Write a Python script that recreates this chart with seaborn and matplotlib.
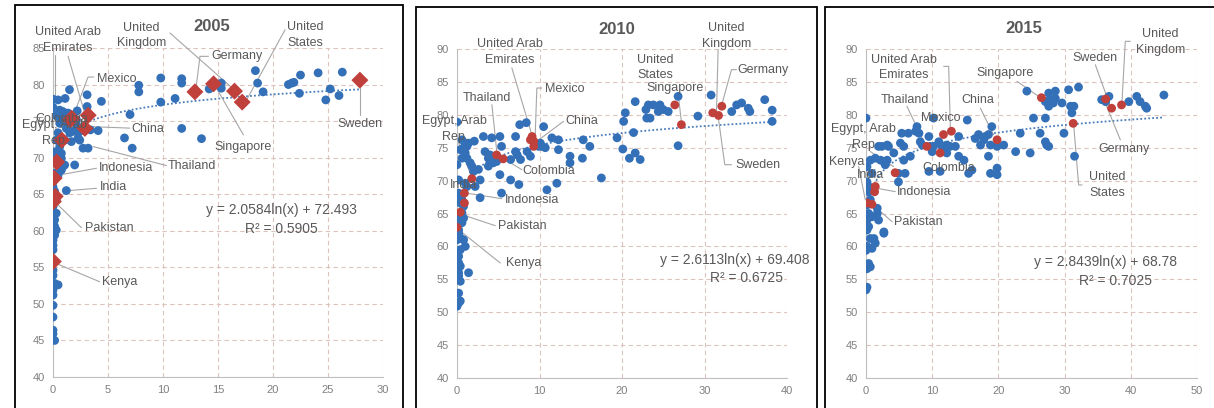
import numpy as np
import pandas as pd
import matplotlib
matplotlib.use('Agg')
import matplotlib.pyplot as plt
from matplotlib.patches import Rectangle
import seaborn as sns

sns.set_style('white')
plt.rcParams['font.family'] = ['Liberation Sans', 'DejaVu Sans']

# ---- data ----
blue_2005 = [(0.0,78.0),(0.0,76.9),(0.0,75.9),(1.1,78.1),(1.5,79.3),(3.1,78.6),(3.1,77.0),(4.4,77.7),
             (2.2,76.4),(4.1,73.7),(3.4,73.8),(7.0,75.9),(6.5,72.7),(7.2,71.3),(7.8,79.9),(7.8,79.0),
             (9.8,80.9),(9.8,77.6),(11.1,78.1),(11.7,80.8),(11.7,80.2),(11.7,74.0),(13.5,72.6),(14.2,79.4),
             (15.3,80.2),(15.3,79.5),(18.4,81.9),(18.6,80.2),(19.1,79.0),(21.4,80.0),(21.7,80.2),(21.9,80.3),
             (22.5,81.3),(22.4,78.8),(24.1,81.6),(24.8,77.9),(25.2,79.4),(26.3,81.7),(26.0,78.5),
             (0.61,76.5),(0.61,74.7),(0.91,75.2),(1.21,74.0),(1.52,73.4),(1.82,73.6),(1.67,72.2),(2.28,72.7),
             (2.43,72.4),(2.73,71.3),(3.19,71.3),(1.97,69.0),(1.06,69.0),(0.76,69.9),(0.91,68.8),(0.76,68.3),
             (1.21,65.5),(0.46,73.4),(0.3,72.4),(1.06,72.4),(1.37,74.5),(2.13,74.5),(0.46,75.6),(0.91,76.3),
             (0.46,77.9),(1.37,76.1),(2.13,75.2),(2.43,73.6),(0.61,71.5),(0.76,70.6),(0.46,67.6),
             (0.15,70.8),(0.0,69.7),(0.15,67.9),(0.0,66.7),(0.0,66.0),(0.15,65.4),(0.0,64.2),(0.0,63.3),
             (0.0,61.9),(0.15,61.5),(0.0,61.0),(0.15,60.6),(0.0,59.9),(0.15,59.4),(0.0,58.7),(0.0,58.0),
             (0.0,57.4),(0.0,56.0),(0.0,54.6),(0.0,53.9),(0.15,52.8),(0.46,52.6),(0.0,51.9),(0.0,51.2),
             (0.0,49.8),(0.0,48.2),(0.0,46.4),(0.0,45.9),(0.15,45.0),(0.3,64.2),(0.3,62.4),(0.3,60.1)]
red_2005 = [(0.8,72.4),(1.7,75.4),(1.6,75.2),(3.2,75.8),(2.9,74.0),(0.33,69.4),(0.1,67.2),(0.2,64.7),
            (0.03,64.0),(0.03,55.8),(12.9,79.0),(14.6,80.1),(16.5,79.1),(17.2,77.6),(27.9,80.6)]

blue_2010 = [(0,78.9),(0,72.4),(2.1,76.0),(3.2,76.7),(4.2,76.5),(5.2,76.7),(5.4,75.2),(7.1,76.7),(7.6,78.5),
             (8.4,78.8),(10.5,78.2),(11.5,76.5),(12.3,76.2),(12.3,74.7),(13.7,73.7),(13.7,72.7),(15.3,76.2),
             (15.2,73.4),(16.1,75.2),(17.5,70.4),(19.4,76.5),(20.2,79.0),(20.4,80.3),(20.1,74.8),(20.9,73.4),
             (21.6,82.0),(21.4,77.3),(21.6,74.2),(22.2,73.2),(22.9,80.8),(23.2,81.5),(23.4,79.5),(23.0,79.5),
             (23.8,81.5),(24.6,81.5),(24.4,80.5),(25.0,80.8),(25.6,80.5),(26.8,82.8),(26.8,75.3),(29.2,79.8),
             (30.8,83.0),(33.3,80.5),(33.9,81.5),(34.5,81.8),(35.3,81.0),(35.5,80.5),(37.3,82.3),(38.2,80.7),
             (38.2,79.0),
             (0.4,74.7),(0.8,75.0),(1.2,75.2),(1.4,75.7),(1.0,74.2),(1.2,73.4),(1.6,72.7),(1.8,72.2),(2.0,71.4),
             (2.6,71.7),(2.8,70.1),(2.8,67.4),(2.2,69.1),(1.2,69.1),(1.0,69.6),(3.4,74.4),(3.8,73.4),(4.0,73.9),
             (3.8,72.2),(4.4,72.7),(4.8,72.9),(5.2,70.9),(6.5,70.1),(7.5,69.4),(5.4,68.1),(6.5,73.2),(7.1,74.4),
             (7.3,73.9),(7.7,73.2),(8.5,74.4),(8.9,73.7),(10.1,75.7),(10.3,75.2),(10.9,68.6),(12.1,69.6),
             (10.7,75.0),(9.9,75.2),(0.6,76.2),(0.6,73.4),
             (0.2,70.1),(0.2,68.1),(0.4,66.6),(0.6,67.1),(0.8,66.1),(0.6,65.1),(0.2,64.6),(0.4,64.1),(0.8,64.3),
             (0.6,63.6),(0.2,62.5),(0.2,62.0),(0.4,61.3),(0.8,61.0),(1.0,60.0),(0.4,59.5),(0.2,58.5),(0.2,57.5),
             (0.4,57.0),(0.2,56.0),(0.2,55.5),(0.4,54.7),(0.2,52.9),(0.2,51.4),(0,50.9),(0.4,51.7),(1.4,56.0),
             (0,67.1),(0,61.0),(0,59.0)]
red_2010 = [(9.1,76.7),(9.3,76.0),(8.9,76.2),(9.3,75.2),(4.8,73.9),(5.6,73.3),(1.8,70.3),(0.9,68.1),
            (0.9,66.6),(0.4,65.2),(0.0,62.9),(26.4,81.5),(27.2,78.5),(31.0,80.3),(31.7,79.9),(32.1,81.3)]

blue_2015 = [(1.9,75.2),(2.4,75.2),(3.2,75.4),(3.4,75.2),(1.4,73.4),(2.2,73.1),(2.7,72.9),(2.9,72.4),(3.2,73.1),
             (4.2,74.2),(5.2,75.7),(5.4,77.2),(5.7,75.2),(5.7,73.1),(4.9,71.1),(4.9,69.8),(5.9,71.1),(6.4,77.2),
             (6.7,73.7),(7.7,78.2),(7.5,77.5),(8.0,77.2),(8.2,75.9),(8.5,75.4),(9.5,76.7),(10.2,79.5),(9.7,75.2),
             (10.0,74.4),(9.5,71.4),(10.2,75.2),(11.0,75.9),(11.5,75.2),(11.2,71.4),(12.2,75.4),(12.2,74.2),
             (12.7,75.2),(13.5,75.2),(14.0,76.7),(14.0,73.7),(14.8,73.1),(15.3,79.2),(15.5,71.1),(16.0,71.6),
             (16.5,76.4),(17.0,77.0),(17.3,75.4),(17.8,76.2),(18.0,76.7),(18.5,77.0),(18.8,75.4),(19.0,78.2),
             (18.5,73.7),(18.8,71.1),(19.8,71.9),(19.8,70.9),(19.8,75.2),(20.8,75.4),(22.6,74.4),(23.3,77.2),
             (24.8,74.2),(24.3,83.6),(25.3,79.5),(26.3,77.2),(27.1,79.5),(27.1,75.9),(27.3,75.4),(27.6,75.2),
             (27.1,82.0),(27.6,81.3),(27.8,82.3),(27.6,83.3),(28.6,83.6),(28.6,82.5),(28.3,81.8),(29.6,81.8),
             (29.9,77.2),(30.6,83.8),(30.9,81.3),(31.1,80.3),(31.4,81.3),(31.5,73.7),(32.1,84.2),(35.6,82.3),
             (36.7,82.8),(36.2,82.0),(39.7,82.0),(40.9,82.8),(41.4,82.0),(42.2,81.3),(42.4,81.0),(45.0,83.0),
             (0,79.5),(0.15,69.8),(0.4,68.3),(0.65,67.1),(0.15,66.3),(0.4,65.0),(0.9,64.5),(0.15,64.0),(0.4,63.0),
             (0.15,62.5),(0.65,61.2),(1.2,61.2),(0.15,60.0),(0.9,59.7),(0,59.4),(1.4,60.5),(0.4,57.4),(0.65,56.9),
             (0.15,56.6),(0,53.4),(0.15,53.8),(1.7,65.8),(1.7,65.0),(1.9,64.0),(2.7,62.2),(2.7,62.0),(0.4,69.1),
             (0.9,71.1),(0.65,73.1),(0.15,72.1)]
red_2015 = [(26.5,82.6),(31.3,78.7),(36.2,82.4),(37.1,81.0),(38.6,81.5),(11.7,77.0),(12.9,77.5),(9.2,75.2),
            (11.2,74.2),(19.8,76.2),(4.4,71.2),(1.4,69.1),(1.3,68.3),(0.15,66.6),(0.9,66.4)]

years = ['2005', '2010', '2015']
trend_coef = {'2005': (2.0584, 72.493), '2010': (2.6113, 69.408), '2015': (2.8439, 68.78)}
trend_text = {'2005': ('y = 2.0584ln(x) + 72.493', 'R² = 0.5905'),
              '2010': ('y = 2.6113ln(x) + 69.408', 'R² = 0.6725'),
              '2015': ('y = 2.8439ln(x) + 68.78', 'R² = 0.7025')}

# label text, label centre, leader line
labels_2005 = [('United Arab\nEmirates', (1.37, 86.1), [(0.15, 84.1), (0.15, 77.9)]),
               ('', (0, 0), [(1.37, 83.86), (2.88, 76.09)]),
               ('United\nKingdom', (8.05, 86.7), [(10.63, 87.06), (16.4, 79.38)]),
               ('Germany', (16.76, 83.86), [(14.12, 83.86), (13.36, 83.86), (13.0, 79.52)]),
               ('United\nStates', (22.93, 86.8), [(21.1, 87.5), (17.6, 77.9)]),
               ('Mexico', (5.77, 80.8), [(3.7, 81.03), (3.19, 81.03), (1.88, 75.86)]),
               ('Colombia', (0.76, 75.27), None),
               ('Egypt, Arab\nRep.', (0.15, 73.35), None),
               ('China', (8.6, 73.9), [(6.98, 74.04), (3.19, 74.26)]),
               ('Singapore', (17.3, 71.5), [(17.31, 73.12), (14.73, 79.84)]),
               ('Sweden', (27.94, 74.6), [(27.94, 75.86), (27.94, 79.66)]),
               ('Thailand', (12.66, 68.8), [(10.32, 68.92), (3.64, 71.52)]),
               ('Indonesia', (6.62, 68.55), [(3.95, 68.55), (0.61, 67.64)]),
               ('India', (5.47, 65.95), [(3.95, 65.81), (1.37, 65.49)]),
               ('Pakistan', (5.1, 60.4), [(2.58, 60.42), (0.46, 63.53)]),
               ('Kenya', (6.07, 53.0), [(4.25, 53.02), (0.3, 55.53)])]
labels_2010 = [('United Arab\nEmirates', (6.45, 89.5), [(6.65, 87.11), (9.07, 76.98)]),
               ('Mexico', (13.1, 83.9), [(10.28, 84.07), (9.68, 84.07), (9.48, 76.98)]),
               ('Thailand', (3.63, 82.55), [(4.23, 81.54), (4.84, 74.19)]),
               ('China', (15.1, 79.0), [(12.9, 79.0), (9.68, 75.97)]),
               ('Egypt, Arab\nRep.', (-0.28, 77.84), [(0.2, 75.71), (1.81, 70.39)]),
               ('Colombia', (11.1, 71.4), [(7.86, 71.66), (5.73, 73.28)]),
               ('India', (0.8, 69.4), None),
               ('Indonesia', (9.07, 67.1), [(5.44, 67.25), (1.01, 68.12)]),
               ('Pakistan', (7.86, 63.15), [(4.64, 63.15), (0.6, 64.82)]),
               ('Kenya', (8.06, 57.5), [(5.24, 57.48), (0.2, 62.54)]),
               ('United\nStates', (24.0, 87.16), None),
               ('Singapore', (26.4, 84.07), [(26.81, 83.06), (27.22, 78.75)]),
               ('United\nKingdom', (32.66, 92.0), [(31.65, 89.9), (31.45, 80.37)]),
               ('Germany', (37.1, 86.86), [(33.87, 86.86), (33.27, 86.86), (32.06, 81.39)]),
               ('Sweden', (36.5, 72.4), [(33.27, 72.42), (32.46, 72.42), (31.65, 79.77)])]
labels_2015 = [('United Arab\nEmirates', (5.69, 87.16), [(11.73, 87.36), (12.49, 87.36), (12.74, 77.97)]),
               ('Thailand', (5.94, 82.3), [(6.19, 81.27), (8.96, 75.43)]),
               ('China', (16.87, 82.3), [(17.27, 81.02), (19.28, 76.95)]),
               ('Mexico', (11.23, 79.5), None),
               ('Singapore', (21.05, 86.35), [(22.81, 85.08), (26.08, 82.79)]),
               ('Sweden', (34.64, 88.6), [(34.64, 87.61), (36.91, 81.27)]),
               ('United\nKingdom', (44.46, 91.07), [(39.93, 91.17), (39.17, 91.17), (38.67, 82.03)]),
               ('Germany', (38.92, 74.77), [(38.42, 76.19), (36.15, 81.78)]),
               ('United\nStates', (36.4, 69.3), [(32.63, 69.34), (32.12, 69.34), (31.37, 78.48)]),
               ('Egypt, Arab\nRep', (-0.45, 76.6), [(0.65, 74.42), (4.18, 72.13)]),
               ('Kenya', (-2.87, 72.8), [(-1.11, 72.13), (-0.1, 67.06)]),
               ('India', (0.65, 70.86), None),
               ('Colombia', (12.49, 71.9), None),
               ('Indonesia', (8.71, 68.2), [(4.43, 68.32), (1.66, 68.83)]),
               ('Pakistan', (7.96, 63.76), [(3.93, 63.76), (1.66, 65.79)])]

BLUE = '#3470b8'
RED = '#c0403c'
TXT = '#595959'
W, H = 1214, 408

panels = [
    dict(year='2005', blue=blue_2005, red=red_2005, labels=labels_2005, marker='D', rs=75,
         xmax=30, xstep=5, ymax=85, box=(53, 383, 48, 377), frame=(15, 403, 5, 412),
         title_xy=(14.42, 88.0), eq_xy=(20.8, 62.9), r2_xy=(20.8, 60.3)),
    dict(year='2010', blue=blue_2010, red=red_2010, labels=labels_2010, marker='o', rs=40,
         xmax=40, xstep=10, ymax=90, box=(457, 787, 49, 378), frame=(416, 817, 7, 412),
         title_xy=(19.35, 92.94), eq_xy=(33.67, 58.0), r2_xy=(35.1, 55.2)),
    dict(year='2015', blue=blue_2015, red=red_2015, labels=labels_2015, marker='o', rs=40,
         xmax=50, xstep=10, ymax=90, box=(866, 1197, 49, 378), frame=(825, 1220, 7, 412),
         title_xy=(23.8, 93.05), eq_xy=(36.15, 57.66), r2_xy=(37.66, 54.8)),
]

fig = plt.figure(figsize=(W / 100, H / 100), dpi=100)

for p in panels:
    fx0, fx1, fy0, fy1 = p['frame']
    fig.add_artist(Rectangle((fx0 / W, 1 - fy1 / H), (fx1 - fx0) / W, (fy1 - fy0) / H,
                             transform=fig.transFigure, fill=False, ec='black', lw=1.3))
    x0, x1, y0, y1 = p['box']
    ax = fig.add_axes([x0 / W, 1 - y1 / H, (x1 - x0) / W, (y1 - y0) / H])

    df_b = pd.DataFrame(p['blue'], columns=['x', 'y'])
    df_r = pd.DataFrame(p['red'], columns=['x', 'y'])

    # log trendline from the equation shown on the chart
    a, b = trend_coef[p['year']]
    xs = np.linspace(0.3, max(df_b['x'].max(), df_r['x'].max()), 300)
    ax.plot(xs, a * np.log(xs) + b, color='#4a7ebb', ls=(0, (1, 1.2)), lw=1.3, zorder=2)

    sns.scatterplot(data=df_b, x='x', y='y', color=BLUE, s=40, edgecolor='none', ax=ax, zorder=3)
    sns.scatterplot(data=df_r, x='x', y='y', color=RED, marker=p['marker'], s=p['rs'],
                    edgecolor='none', ax=ax, zorder=4)

    for text, (tx, ty), line in p['labels']:
        if line:
            lx, ly = zip(*line)
            ax.plot(lx, ly, color='#a6a6a6', lw=0.8, zorder=2.5, clip_on=False)
        if text:
            ax.text(tx, ty, text, ha='center', va='center', fontsize=9, color=TXT,
                    linespacing=1.4, zorder=5, clip_on=False)

    eq, r2 = trend_text[p['year']]
    ax.text(*p['eq_xy'], eq, ha='center', va='center', fontsize=10, color=TXT, zorder=5)
    ax.text(*p['r2_xy'], r2, ha='center', va='center', fontsize=10, color=TXT, zorder=5)
    ax.text(*p['title_xy'], p['year'], ha='center', va='center', fontsize=12, fontweight='bold',
            color=TXT, clip_on=False)

    ax.set_xlim(0, p['xmax'])
    ax.set_ylim(40, p['ymax'])
    ax.set_xticks(range(0, p['xmax'] + 1, p['xstep']))
    ax.set_yticks(range(40, p['ymax'] + 1, 5))
    ax.grid(True, color='#dcc3bc', ls=(0, (4, 3)), lw=0.8)
    ax.set_axisbelow(True)
    ax.set_xlabel('')
    ax.set_ylabel('')
    for s in ['top', 'right']:
        ax.spines[s].set_visible(False)
    for s in ['left', 'bottom']:
        ax.spines[s].set_color('#bfbfbf')
    ax.tick_params(length=0, labelsize=8, labelcolor='#808080', pad=6)
    ax.patch.set_alpha(0)

fig.savefig('out.png', dpi=100)
